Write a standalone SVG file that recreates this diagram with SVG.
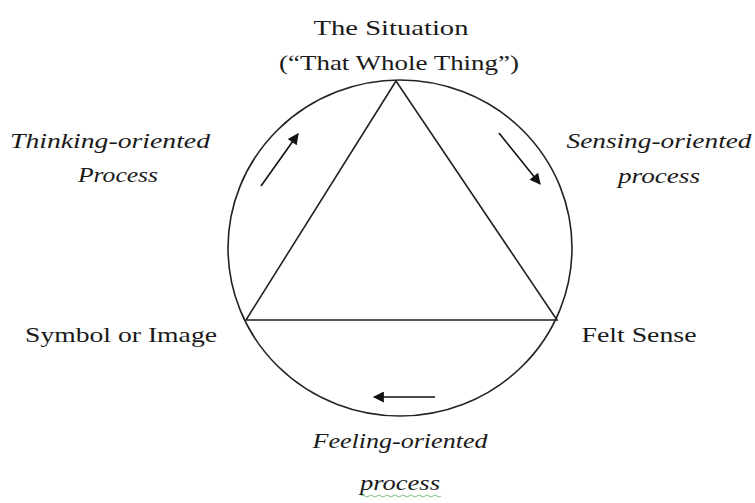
<svg xmlns="http://www.w3.org/2000/svg" width="755" height="503" viewBox="0 0 755 503">
<defs>
<style>
.lbl{font-family:"Liberation Serif","DejaVu Serif",serif;font-size:21px;fill:#1a1a1a;}
.it{font-style:italic;}
.ln{stroke:#222;stroke-width:1.6;fill:none;}
.ar{stroke:#111;stroke-width:1.6;fill:none;marker-end:url(#ah);}
</style>
<marker id="ah" viewBox="0 0 10 10" refX="9" refY="5" markerWidth="13" markerHeight="11" markerUnits="userSpaceOnUse" orient="auto">
<path d="M0,0 L10,5 L0,10 Z" fill="#111"/>
</marker>
</defs>
<rect width="755" height="503" fill="#fff"/>
<g id="circle"><ellipse class="ln" cx="400" cy="248" rx="172" ry="168"/></g>
<g id="triangle"><polygon class="ln" points="396,81 246,320 557,320"/></g>
<g id="connectors">
<line class="ar" x1="261" y1="186" x2="298" y2="134"/>
<line class="ar" x1="499" y1="133" x2="540" y2="184"/>
<line class="ar" x1="435" y1="397" x2="374" y2="397"/>
</g>
<g id="situation">
<text class="lbl" x="391" y="35" text-anchor="middle" textLength="155" lengthAdjust="spacingAndGlyphs">The Situation</text>
<text class="lbl" x="399" y="70" text-anchor="middle" textLength="240" lengthAdjust="spacingAndGlyphs">(“That Whole Thing”)</text>
</g>
<g id="thinking">
<text class="lbl it" x="110" y="148" text-anchor="middle" textLength="200" lengthAdjust="spacingAndGlyphs">Thinking-oriented</text>
<text class="lbl it" x="118" y="182" text-anchor="middle" textLength="80" lengthAdjust="spacingAndGlyphs">Process</text>
</g>
<g id="sensing">
<text class="lbl it" x="659" y="148" text-anchor="middle" textLength="185" lengthAdjust="spacingAndGlyphs">Sensing-oriented</text>
<text class="lbl it" x="659" y="183" text-anchor="middle" textLength="82" lengthAdjust="spacingAndGlyphs">process</text>
</g>
<g id="feeling">
<text class="lbl it" x="400" y="448" text-anchor="middle" textLength="175" lengthAdjust="spacingAndGlyphs">Feeling-oriented</text>
<text class="lbl it" x="400" y="490" text-anchor="middle" textLength="80" lengthAdjust="spacingAndGlyphs">process</text>
<path d="M361,496 q2,-2 4,0 t4,0 t4,0 t4,0 t4,0 t4,0 t4,0 t4,0 t4,0 t4,0 t4,0 t4,0 t4,0 t4,0 t4,0 t4,0 t4,0 t4,0 t4,0 t4,0" stroke="#7fbf7f" stroke-width="1" fill="none"/>
</g>
<g id="symbol"><text class="lbl" x="121" y="342" text-anchor="middle" textLength="192" lengthAdjust="spacingAndGlyphs">Symbol or Image</text></g>
<g id="felt"><text class="lbl" x="639" y="342" text-anchor="middle" textLength="115" lengthAdjust="spacingAndGlyphs">Felt Sense</text></g>
</svg>
